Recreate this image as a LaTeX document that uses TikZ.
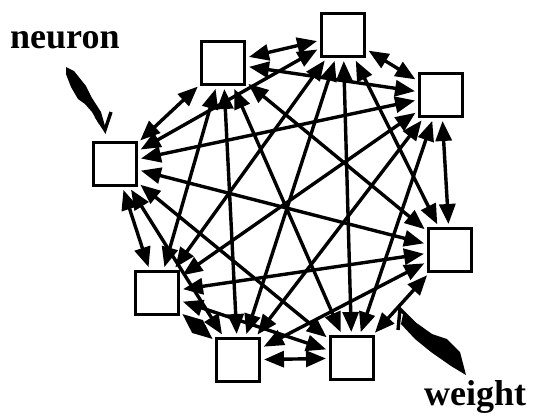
\documentclass[tikz,border=0pt]{standalone}
\usepackage{fontspec}
\setmainfont{Liberation Serif}
\usetikzlibrary{arrows.meta}
\tikzset{
  neuronbox/.style={draw, line width=3pt, minimum size=43pt, inner sep=0pt, fill=white},
  wire/.style={line width=3.4pt, {Triangle[length=20pt,width=16pt]}-{Triangle[length=20pt,width=16pt]},
               shorten <=3pt, shorten >=3pt},
  labeltext/.style={font=\bfseries\fontsize{36}{40}\selectfont, inner sep=0pt, anchor=base west},
  pointer/.style={line width=3.4pt, line join=miter}
}
\begin{document}
\begin{tikzpicture}[x=1pt, y=-1pt]
  \useasboundingbox (0,0) rectangle (536,418);

  % the eight neurons, placed round a ring
  \node[neuronbox] (n1) at (223,63) {};
  \node[neuronbox] (n2) at (343,35) {};
  \node[neuronbox] (n3) at (441,95) {};
  \node[neuronbox] (n4) at (450,250) {};
  \node[neuronbox] (n5) at (352,358) {};
  \node[neuronbox] (n6) at (238,360) {};
  \node[neuronbox] (n7) at (157,293) {};
  \node[neuronbox] (n8) at (115,164) {};

  % every pair of neurons is linked by a two-way weight
  \foreach \a/\b in {n1/n2,n1/n3,n1/n4,n1/n5,n1/n6,n1/n7,n1/n8,
                     n2/n3,n2/n4,n2/n5,n2/n6,n2/n7,n2/n8,
                     n3/n4,n3/n5,n3/n6,n3/n7,n3/n8,
                     n4/n5,n4/n6,n4/n7,n4/n8,
                     n5/n6,n5/n7,n5/n8,
                     n6/n7,n6/n8,
                     n7/n8}
    \draw[wire] (\a) -- (\b);

  % labels
  \node[labeltext] (lneuron) at (10,48) {neuron};
  \node[labeltext] (lweight) at (424,405) {weight};

  % hand-drawn pointer to a neuron
  \fill (66,67) -- (74,71) -- (86,86) -- (92,98) -- (101,112) -- (105,126)
        -- (99,124) -- (92,112) -- (85,104) -- (78,99) -- (71,87) -- (66,74) -- cycle;
  \draw[pointer] (96,116) -- (105,130) -- (111,112);

  % hand-drawn pointer to a weight
  \fill (403,314) -- (418,324) -- (432,334) -- (447,339) -- (460,352) -- (466,375)
        -- (451,366) -- (431,352) -- (415,339) -- (401,324) -- cycle;
  \draw[pointer] (398,330) -- (400,309) -- (415,324);
\end{tikzpicture}
\end{document}
